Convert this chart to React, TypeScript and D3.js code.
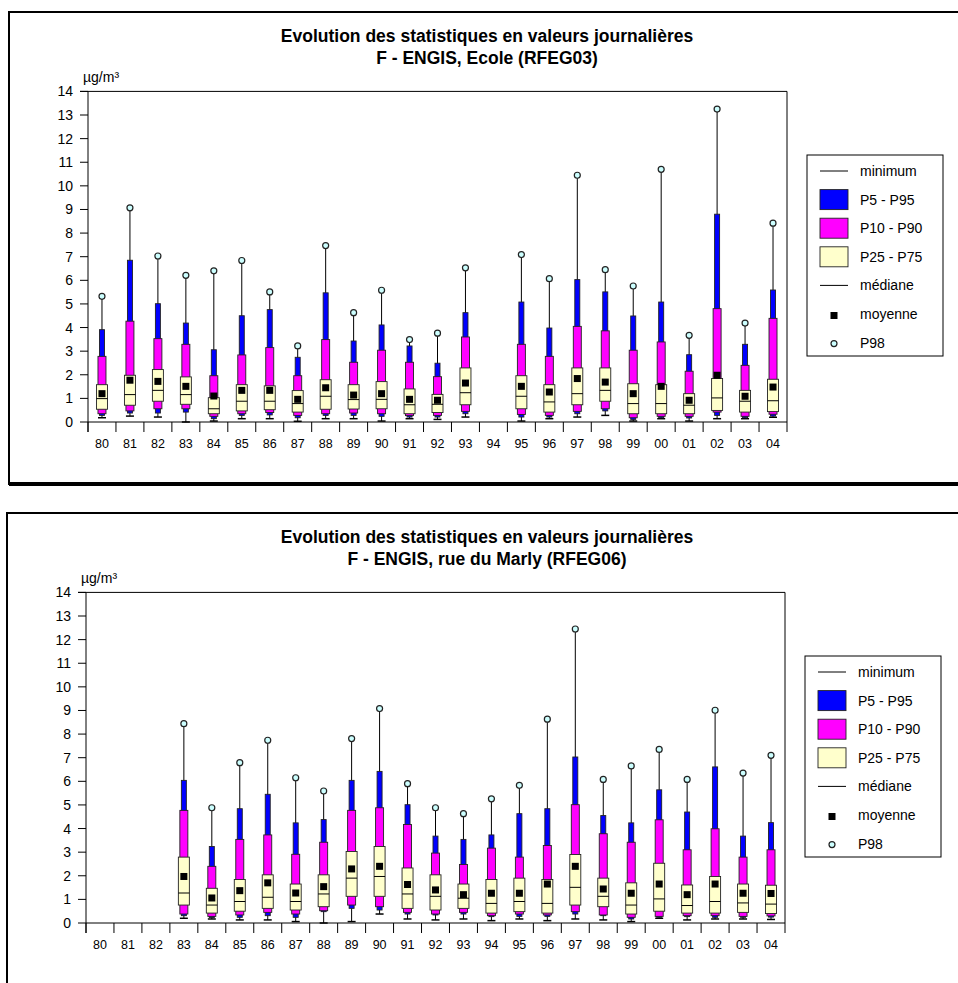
import React from "react";
import { scaleBand, scaleLinear } from "d3";

// years on the x axis
const years = ["80", "81", "82", "83", "84", "85", "86", "87", "88", "89", "90", "91", "92",
  "93", "94", "95", "96", "97", "98", "99", "00", "01", "02", "03", "04"];
const yTicks = [0, 1, 2, 3, 4, 5, 6, 7, 8, 9, 10, 11, 12, 13, 14];

// F - ENGIS, Ecole (RFEG03)  (null = no data)
const ecoleMin = [0.18, 0.25, 0.21, 0.0, 0.04, 0.14, 0.14, 0.03, 0.14, 0.14, 0.04, 0.14, 0.11, 0.21, null, 0.04, 0.14, 0.21, 0.28, 0.04, 0.14, 0.04, 0.14, 0.14, 0.2];
const ecoleP5 = [0.28, 0.38, 0.38, 0.42, 0.14, 0.28, 0.3, 0.18, 0.28, 0.28, 0.24, 0.21, 0.21, 0.35, null, 0.21, 0.21, 0.35, 0.47, 0.11, 0.18, 0.17, 0.28, 0.18, 0.25];
const ecoleP10 = [0.35, 0.47, 0.56, 0.56, 0.24, 0.35, 0.4, 0.28, 0.35, 0.38, 0.35, 0.27, 0.28, 0.45, null, 0.32, 0.28, 0.45, 0.56, 0.18, 0.24, 0.24, 0.42, 0.24, 0.33];
const ecoleP25 = [0.54, 0.71, 0.88, 0.75, 0.35, 0.47, 0.52, 0.42, 0.54, 0.55, 0.56, 0.35, 0.4, 0.73, null, 0.56, 0.42, 0.73, 0.88, 0.35, 0.35, 0.35, 0.49, 0.42, 0.44];
const ecoleMedian = [0.99, 1.16, 1.34, 1.16, 0.56, 0.88, 0.88, 0.78, 1.09, 0.95, 0.96, 0.73, 0.75, 1.24, null, 1.09, 0.85, 1.2, 1.34, 0.78, 0.78, 0.71, 1.02, 0.88, 0.9];
const ecoleP75 = [1.58, 1.98, 2.22, 1.91, 1.03, 1.58, 1.53, 1.33, 1.79, 1.58, 1.71, 1.4, 1.17, 2.29, null, 1.96, 1.58, 2.29, 2.29, 1.62, 1.58, 1.2, 1.84, 1.34, 1.81];
const ecoleP90 = [2.78, 4.27, 3.53, 3.29, 1.96, 2.84, 3.15, 1.96, 3.49, 2.53, 3.04, 2.53, 1.92, 3.6, null, 3.29, 2.78, 4.05, 3.86, 3.04, 3.39, 2.15, 4.8, 2.4, 4.39];
const ecoleP95 = [3.91, 6.85, 5.01, 4.19, 3.06, 4.5, 4.76, 2.74, 5.47, 3.43, 4.11, 3.22, 2.49, 4.63, null, 5.08, 3.98, 6.03, 5.51, 4.49, 5.08, 2.85, 8.8, 3.29, 5.59];
const ecoleP98 = [5.32, 9.07, 7.03, 6.21, 6.4, 6.84, 5.51, 3.22, 7.47, 4.63, 5.58, 3.49, 3.76, 6.53, null, 7.09, 6.07, 10.45, 6.45, 5.76, 10.7, 3.67, 13.25, 4.19, 8.42];
const ecoleMean = [1.2, 1.77, 1.72, 1.51, 1.1, 1.34, 1.34, 0.96, 1.45, 1.14, 1.2, 0.96, 0.92, 1.65, null, 1.51, 1.27, 1.84, 1.69, 1.2, 1.51, 0.92, 1.98, 1.09, 1.48];

// F - ENGIS, rue du Marly (RFEG06)
const marlyMin = [null, null, null, 0.2, 0.17, 0.13, 0.13, 0.06, 0.0, 0.06, 0.38, 0.17, 0.13, 0.17, 0.1, 0.17, 0.1, 0.17, 0.13, 0.06, 0.2, 0.13, 0.17, 0.17, 0.15];
const marlyP5 = [null, null, null, 0.31, 0.23, 0.24, 0.31, 0.24, 0.48, 0.62, 0.55, 0.38, 0.34, 0.38, 0.27, 0.28, 0.28, 0.38, 0.31, 0.17, 0.24, 0.27, 0.24, 0.24, 0.25];
const marlyP10 = [null, null, null, 0.38, 0.28, 0.34, 0.45, 0.38, 0.52, 0.76, 0.69, 0.45, 0.38, 0.45, 0.31, 0.38, 0.34, 0.48, 0.34, 0.24, 0.28, 0.31, 0.31, 0.28, 0.3];
const marlyP25 = [null, null, null, 0.76, 0.42, 0.5, 0.62, 0.55, 0.69, 1.13, 1.13, 0.62, 0.55, 0.62, 0.42, 0.48, 0.42, 0.76, 0.69, 0.38, 0.5, 0.42, 0.42, 0.45, 0.4];
const marlyMedian = [null, null, null, 1.27, 0.76, 0.91, 1.09, 0.91, 1.23, 1.9, 1.97, 1.23, 1.13, 1.05, 0.83, 0.91, 0.83, 1.51, 1.13, 0.76, 1.02, 0.74, 0.91, 0.85, 0.8];
const marlyP75 = [null, null, null, 2.79, 1.47, 1.84, 2.04, 1.65, 2.04, 3.03, 3.24, 2.33, 2.04, 1.65, 1.84, 1.9, 1.84, 2.9, 1.9, 1.7, 2.53, 1.61, 1.97, 1.65, 1.6];
const marlyP90 = [null, null, null, 4.77, 2.4, 3.54, 3.73, 2.91, 3.42, 4.77, 4.88, 4.17, 2.96, 2.48, 3.17, 2.79, 3.28, 5.01, 3.78, 3.42, 4.37, 3.1, 3.99, 2.79, 3.1];
const marlyP95 = [null, null, null, 6.04, 3.24, 4.84, 5.45, 4.24, 4.38, 6.04, 6.42, 5.01, 3.68, 3.54, 3.73, 4.63, 4.84, 7.03, 4.55, 4.24, 5.64, 4.7, 6.61, 3.68, 4.25];
const marlyP98 = [null, null, null, 8.44, 4.88, 6.79, 7.74, 6.15, 5.59, 7.81, 9.08, 5.9, 4.88, 4.63, 5.26, 5.83, 8.63, 12.45, 6.08, 6.65, 7.35, 6.08, 9.01, 6.35, 7.1];
const marlyMean = [null, null, null, 1.97, 1.06, 1.37, 1.7, 1.27, 1.54, 2.29, 2.4, 1.63, 1.4, 1.2, 1.26, 1.26, 1.65, 2.4, 1.44, 1.26, 1.65, 1.2, 1.65, 1.26, 1.25];

const legendLabels = ["minimum", "P5 - P95", "P10 - P90", "P25 - P75", "médiane", "moyenne", "P98"];

const FONT = "'Liberation Sans', Arial, sans-serif";
const BLUE = "#0000ff";
const MAGENTA = "#ff00ff";
const CREAM = "#ffffcc";
const CYAN = "#ccffff";
const EDGE = "#222";

type Stats = {
  min: (number | null)[]; p5: (number | null)[]; p10: (number | null)[]; p25: (number | null)[];
  median: (number | null)[]; p75: (number | null)[]; p90: (number | null)[]; p95: (number | null)[];
  p98: (number | null)[]; mean: (number | null)[];
};

const ecole: Stats = { min: ecoleMin, p5: ecoleP5, p10: ecoleP10, p25: ecoleP25, median: ecoleMedian, p75: ecoleP75, p90: ecoleP90, p95: ecoleP95, p98: ecoleP98, mean: ecoleMean };
const marly: Stats = { min: marlyMin, p5: marlyP5, p10: marlyP10, p25: marlyP25, median: marlyMedian, p75: marlyP75, p90: marlyP90, p95: marlyP95, p98: marlyP98, mean: marlyMean };

const Panel = ({ dy, dx, subtitle, s }: { dy: number; dx: number; subtitle: string; s: Stats }) => {
  const left = 88 + dx, right = 787 + dx, top = 91.4, bottom = 422;
  const x = scaleBand<string>().domain(years).range([left, right]);
  const y = scaleLinear().domain([0, 14]).range([bottom, top]);
  const bw = x.bandwidth();
  const lgX = 807 + dx, lgTop = 155;
  const lgY = (i: number) => lgTop + 16 + i * 28.6;

  return (
    <g transform={`translate(0,${dy})`} fontFamily={FONT}>
      <rect x={9 + dx} y={12} width={1000} height={472} fill="#fff" stroke="#000" strokeWidth={2} />
      <line x1={9 + dx} x2={1000} y1={484} y2={484} stroke="#000" strokeWidth={4} />

      <text x={487} y={42} textAnchor="middle" fontSize={17.5} fontWeight="bold">
        Evolution des statistiques en valeurs journalières
      </text>
      <text x={487} y={64} textAnchor="middle" fontSize={17.5} fontWeight="bold">{subtitle}</text>
      <text x={left - 5} y={82} fontSize={14}>µg/m³</text>

      {/* axes */}
      <line x1={left - 8} x2={right} y1={top} y2={top} stroke="#000" />
      <line x1={left} x2={left} y1={top} y2={bottom + 10} stroke="#000" />
      <line x1={right} x2={right} y1={top} y2={bottom + 10} stroke="#000" />
      <line x1={left} x2={right} y1={bottom} y2={bottom} stroke="#000" />
      {yTicks.map((t) => (
        <g key={t}>
          <line x1={left - 8} x2={left} y1={y(t)} y2={y(t)} stroke="#000" />
          <text x={left - 15} y={y(t) + 5} textAnchor="end" fontSize={14}>{t}</text>
        </g>
      ))}
      {years.map((yr) => (
        <g key={yr}>
          <line x1={x(yr)!} x2={x(yr)!} y1={bottom} y2={bottom + 10} stroke="#000" />
          <text x={x(yr)! + bw / 2} y={bottom + 26} textAnchor="middle" fontSize={12.5}>{yr}</text>
        </g>
      ))}

      {/* boxes */}
      {years.map((yr, i) => {
        if (s.p98[i] == null) return null;
        const cx = x(yr)! + bw / 2;
        const v = (a: (number | null)[]) => y(a[i] as number);
        const bar = (lo: number, hi: number, w: number, fill: string) => (
          <rect x={cx - w / 2} y={hi} width={w} height={Math.max(lo - hi, 0)} fill={fill} stroke={EDGE} strokeWidth={0.9} />
        );
        return (
          <g key={yr}>
            <line x1={cx} x2={cx} y1={v(s.min)} y2={v(s.p98)} stroke="#000" strokeWidth={1} />
            <line x1={cx - 4} x2={cx + 4} y1={v(s.min)} y2={v(s.min)} stroke="#000" strokeWidth={1.5} />
            {bar(v(s.p5), v(s.p95), 5, BLUE)}
            {bar(v(s.p10), v(s.p90), 8, MAGENTA)}
            {bar(v(s.p25), v(s.p75), 11, CREAM)}
            <line x1={cx - 5.5} x2={cx + 5.5} y1={v(s.median)} y2={v(s.median)} stroke="#000" strokeWidth={1} />
            <rect x={cx - 3.5} y={v(s.mean) - 3.5} width={7} height={7} fill="#000" />
            <circle cx={cx} cy={v(s.p98)} r={3} fill={CYAN} stroke={EDGE} strokeWidth={1.2} />
          </g>
        );
      })}

      {/* legend */}
      <rect x={lgX} y={lgTop} width={136} height={201} fill="#fff" stroke="#000" strokeWidth={1} />
      {legendLabels.map((lab, i) => {
        const cy = lgY(i);
        const sx = lgX + 13, sw = 28, mid = sx + sw / 2;
        let sym: React.ReactNode = null;
        if (i === 0 || i === 4) sym = <line x1={sx} x2={sx + sw} y1={cy} y2={cy} stroke="#000" />;
        else if (i <= 3) sym = <rect x={sx} y={cy - 10} width={sw} height={20} fill={[BLUE, MAGENTA, CREAM][i - 1]} stroke={EDGE} strokeWidth={0.9} />;
        else if (i === 5) sym = <rect x={mid - 3.5} y={cy - 2} width={7} height={7} fill="#000" />;
        else sym = <circle cx={mid} cy={cy + 1} r={3} fill={CYAN} stroke={EDGE} strokeWidth={1.2} />;
        return (
          <g key={lab}>
            {sym}
            <text x={lgX + 53} y={cy + 5} fontSize={14}>{lab}</text>
          </g>
        );
      })}
    </g>
  );
};

export default function App() {
  return (
    <svg width={958} height={983} style={{ position: "absolute", left: 0, top: 0, background: "#fff" }}>
      <Panel dy={0} dx={0} subtitle="F - ENGIS, Ecole (RFEG03)" s={ecole} />
      <Panel dy={501} dx={-2} subtitle="F - ENGIS, rue du Marly (RFEG06)" s={marly} />
    </svg>
  );
}
